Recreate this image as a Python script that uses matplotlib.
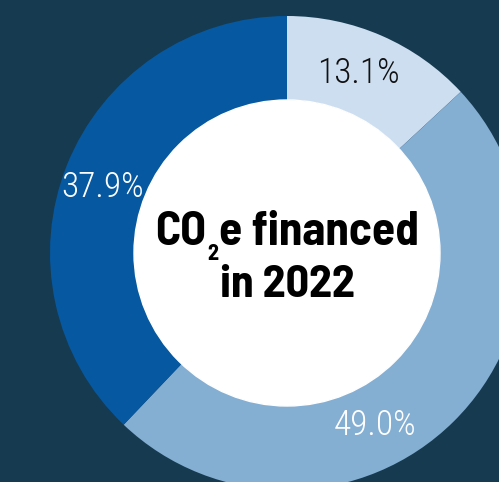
import matplotlib
matplotlib.use("Agg")
import matplotlib.pyplot as plt
import numpy as np

# data
segments = ["Segment A", "Segment B", "Segment C"]
shares = [13.1, 49.0, 37.9]
colors = ["#cddef0", "#84aed2", "#0658a0"]
label_colors = ["#111111", "#ffffff", "#ffffff"]
label_texts = ["13.1%", "49.0%", "37.9%"]
title_parts = ["CO", "2", "e financed"]
title_line2 = "in 2022"

BG = "#163a4f"
W, H = 499, 482
fig = plt.figure(figsize=(W / 100, H / 100), dpi=100, facecolor=BG)
ax = fig.add_axes([0, 0, 1, 1])

cx, cy = 287, H - 253
R_out, R_in = 237, 153
ax.pie(shares, colors=colors, startangle=90, counterclock=False,
       radius=R_out, center=(cx, cy), frame=True,
       wedgeprops=dict(width=R_out - R_in, linewidth=0))
ax.set_xlim(0, W)
ax.set_ylim(0, H)
ax.set_aspect("equal")
ax.axis("off")
ax.add_patch(plt.Circle((cx, cy), R_in, color="white", zorder=3))

# label positions (angle deg, radius) relative to centre
label_pos = [(68.3, 193), (-63, 193), (160.5, 196)]
lab_font = dict(family="Roboto Condensed", weight=300, fontsize=25.5)
for txt, col, (ang, r) in zip(label_texts, label_colors, label_pos):
    a = np.deg2rad(ang)
    ax.text(cx + r * np.cos(a), cy + r * np.sin(a), txt, color=col,
            ha="center", va="center", zorder=4, **lab_font)

# centre title
tfont = dict(family="Barlow Semi Condensed", weight=700, color="black", zorder=5)
big1 = 34
big2 = 33
small = 16
fig.canvas.draw()
rend = fig.canvas.get_renderer()
def width(s, size):
    t = ax.text(0, 0, s, fontsize=size, **tfont)
    w = t.get_window_extent(rend).width
    t.remove()
    return w
w1 = width(title_parts[0], big1)
w2 = width(title_parts[1], small)
w3 = width(title_parts[2], big1)
gap = 1
total = w1 + w2 + w3 + 2 * gap
x0 = cx - total / 2
base1 = H - 245
ax.text(x0, base1, title_parts[0], fontsize=big1, ha="left", va="baseline", **tfont)
ax.text(x0 + w1 + gap, base1 - 15, title_parts[1], fontsize=small, ha="left", va="baseline", **tfont)
ax.text(x0 + w1 + w2 + 2 * gap, base1, title_parts[2], fontsize=big1, ha="left", va="baseline", **tfont)
ax.text(cx, H - 297, title_line2, fontsize=big2, ha="center", va="baseline", **tfont)

fig.savefig("out.png", dpi=100, facecolor=BG)
